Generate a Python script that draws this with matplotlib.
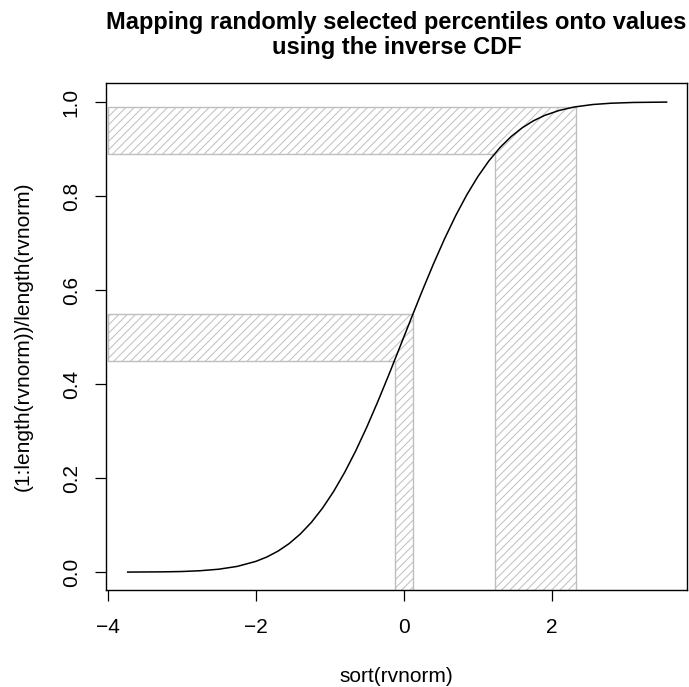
import matplotlib.pyplot as plt
from matplotlib.patches import Polygon

plt.rcParams['font.family'] = ['Liberation Sans', 'DejaVu Sans']
plt.rcParams['hatch.linewidth'] = 0.7
plt.rcParams['hatch.color'] = '#BEBEBE'

# sorted sample values and their cumulative fractions
sorted_x = [-3.73, -3.25, -3.0, -2.75, -2.5, -2.25, -2.0, -1.85, -1.7, -1.55,
            -1.4, -1.25, -1.1, -0.95, -0.8, -0.65, -0.5, -0.35, -0.2, -0.05,
            0.1, 0.25, 0.4, 0.55, 0.7, 0.85, 1.0, 1.15, 1.3, 1.45,
            1.6, 1.75, 1.9, 2.1, 2.3, 2.55, 2.8, 3.1, 3.55]
cum_frac = [0.0001, 0.0006, 0.0013, 0.003, 0.0062, 0.0122, 0.0228, 0.0322, 0.0446, 0.0606,
            0.0808, 0.1056, 0.1357, 0.1711, 0.2119, 0.2578, 0.3085, 0.3632, 0.4207, 0.4801,
            0.5398, 0.5987, 0.6554, 0.7088, 0.758, 0.8023, 0.8413, 0.8749, 0.9032, 0.9265,
            0.9452, 0.9599, 0.9713, 0.9821, 0.9893, 0.9946, 0.9974, 0.999, 0.9998]

# percentile bands (low, high) and matching quantiles
pct_bands = [(0.45, 0.55), (0.89, 0.99)]
quantiles = [(-0.1257, 0.1257), (1.2265, 2.3263)]
x_left = -4
y_floor = -1

fig = plt.figure(figsize=(6.89, 6.87), dpi=100)
ax = fig.add_axes([0.1534, 0.1412, 0.8442, 0.7384])

for (plo, phi), (qlo, qhi) in zip(pct_bands, quantiles):
    verts = [(x_left, plo), (qlo, plo), (qlo, y_floor), (qhi, y_floor),
             (qhi, phi), (x_left, phi)]
    ax.add_patch(Polygon(verts, closed=True, facecolor='none',
                         edgecolor='#BEBEBE', hatch='////', lw=1))

ax.plot(sorted_x, cum_frac, color='black', lw=1.1)

ax.set_xlim(-4.027, 3.83)
ax.set_ylim(-0.038, 1.041)
ax.set_xticks([-4, -2, 0, 2])
ax.set_xticklabels(['\u22124', '\u22122', '0', '2'])
ax.set_yticks([0.0, 0.2, 0.4, 0.6, 0.8, 1.0])
ax.set_yticklabels(['0.0', '0.2', '0.4', '0.6', '0.8', '1.0'], rotation=90, va='center')
ax.tick_params(axis='x', length=8, width=0.9, pad=12, labelsize=15)
ax.tick_params(axis='y', length=8, width=0.9, pad=10, labelsize=15)
for s in ax.spines.values():
    s.set_linewidth(1)

fig.text(23 / 689, 1 - 336 / 687, '(1:length(rvnorm))/length(rvnorm)',
         rotation=90, ha='center', va='center', fontsize=15)
fig.text(396.5 / 689, 1 - 677 / 687, 'sort(rvnorm)', ha='center', va='center', fontsize=15)
fig.text(396.5 / 689, 1 - 35 / 687,
         'Mapping randomly selected percentiles onto values\nusing the inverse CDF',
         ha='center', va='center', fontsize=17, fontweight='bold', linespacing=1.1)

fig.savefig('out.png', dpi=100)
